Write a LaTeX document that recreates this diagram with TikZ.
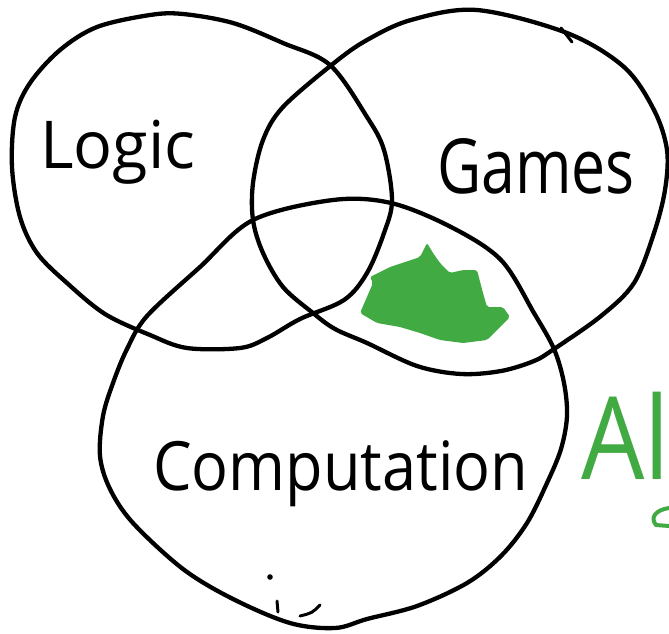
\documentclass[tikz,border=0pt]{standalone}
\usepackage{fontspec}
\setmainfont{Open Sans}
\usepackage{xcolor}
\usepackage{tikz}
\usetikzlibrary{positioning}
\definecolor{scribblegreen}{RGB}{66,170,66}
\tikzset{
	ring/.style={line width=4.3pt, line join=round, black},
	label text/.style={inner sep=0pt, text=black},
}

\begin{document}
\begin{tikzpicture}[x=1pt, y=-1pt]
		% Frame and clip:
		\useasboundingbox (0,0) rectangle (669,633);
		\clip (0,0) rectangle (669,633);
		% Circles:
		\draw[ring] plot[smooth cycle, tension=0.55] coordinates {(12,167) (15,117) (30,83) (60,50) (97,27) (150,15) (183,14) (233,23) (283,43) (330,65) (367,117) (384,150) (392,200) (384,233) (367,273) (344,300) (300,319) (267,338) (240,348) (187,348) (150,335) (105,314) (67,283) (37,253) (20,217)};
		\draw[ring] plot[smooth cycle, tension=0.55] coordinates {(334,63) (367,40) (411,20) (477,10) (567,33) (624,67) (654,110) (667,150) (665,190) (654,233) (634,283) (601,316) (554,349) (534,361) (501,371) (461,374) (417,366) (367,343) (335,329) (313,313) (283,287) (263,253) (253,220) (253,183) (263,140) (283,107)};
		\draw[ring] plot[smooth cycle, tension=0.55] coordinates {(147,316) (200,267) (253,220) (333,200) (391,203) (451,227) (501,260) (534,313) (554,349) (564,383) (567,416) (561,449) (547,483) (527,523) (501,556) (467,583) (417,606) (367,619) (335,628) (290,623) (233,599) (183,569) (133,523) (110,489) (100,456) (103,416) (113,383) (127,349)};
		% Pen marks:
		\draw[ring, line width=3pt, line cap=round] (561,28) -- (572,42);
		\fill (270,577) circle (2.8pt);
		\draw[ring, line width=3pt, line cap=round] (277,601) -- (278,612);
		\draw[ring, line width=3pt, line cap=round] (300,616) .. controls (312,613) .. (320,605);
		\draw[scribblegreen, line width=4pt, line cap=round] (669,508) .. controls (655,510) and (650,518) .. (656,525) -- (669,526);
		% Green scribble:
		\fill[scribblegreen, rounded corners=2pt] (427,243) -- (420,257) -- (390,267) -- (370,277) -- (373,283) -- (360,313) -- (377,323) -- (400,327) -- (420,333) -- (440,340) -- (463,343) -- (487,340) -- (497,330) -- (510,317) -- (503,307) -- (487,307) -- (483,293) -- (477,270) -- (463,270) -- (450,273) -- (440,263) -- (433,253) -- cycle;
		% Labels:
		\node[label text, anchor=base west, font=\fontsize{66}{70}\selectfont, xscale=0.98] (logic) at (40,168) {Logic};
		\node[label text, anchor=base west, font=\fontsize{76}{80}\selectfont, xscale=0.8] (games) at (437,193) {Games};
		\node[label text, anchor=base west, font=\fontsize{68}{72}\selectfont, xscale=0.9] (computation) at (153,490) {Computation};
		\node[label text, text=scribblegreen, anchor=base west, font=\fontsize{115}{120}\selectfont, xscale=0.87] (alg) at (581,479) {Al};
	\end{tikzpicture}
\end{document}
